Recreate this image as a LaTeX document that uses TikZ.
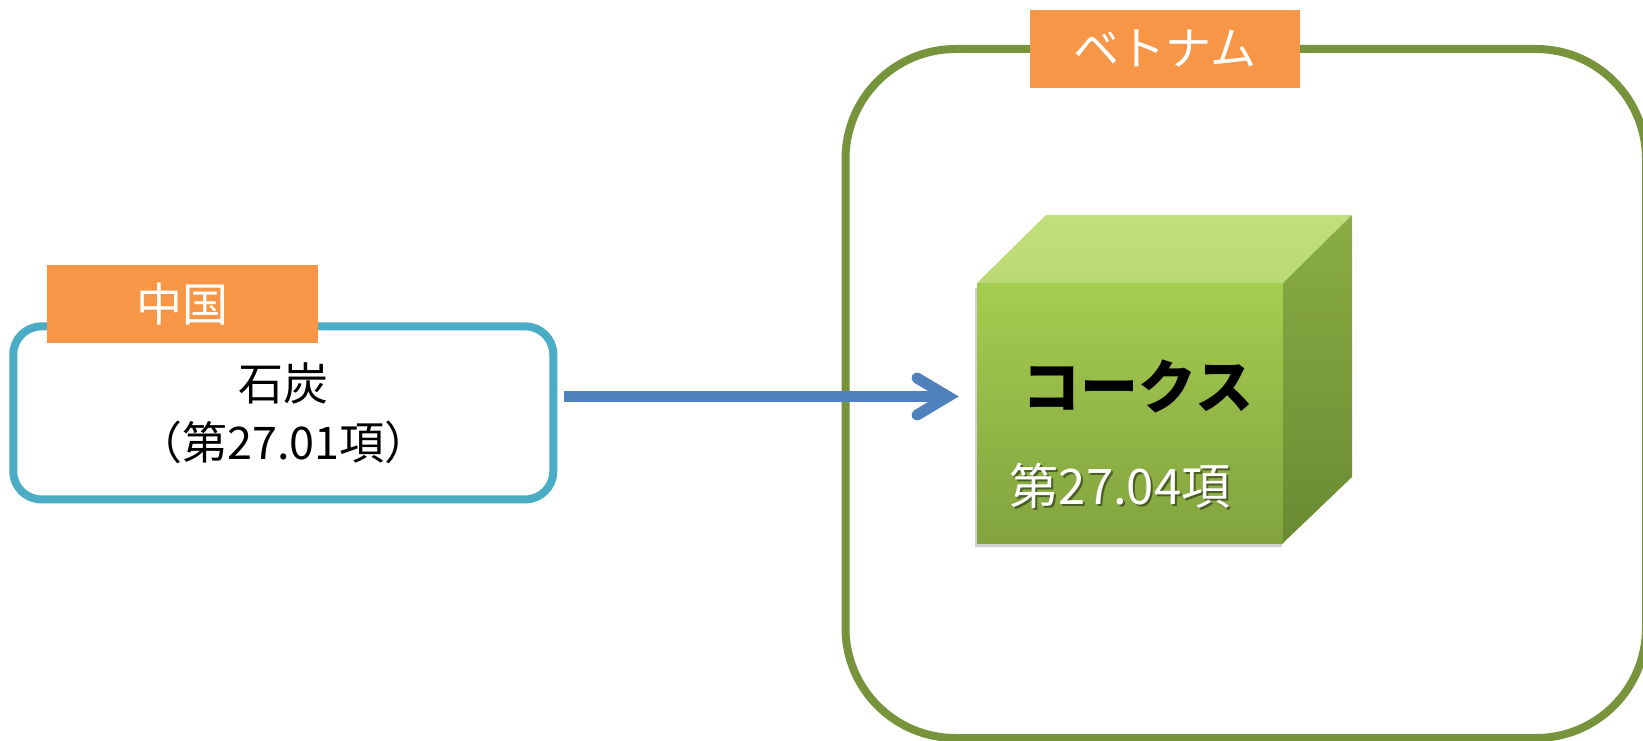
\documentclass[tikz,border=0pt]{standalone}
\usepackage{fontspec}
\newfontfamily\jp{Noto Sans CJK JP}
\usetikzlibrary{calc}
\definecolor{aqua}{HTML}{4BACC6}
\definecolor{orng}{HTML}{F79646}
\definecolor{olive}{HTML}{77933C}
\definecolor{flowblue}{HTML}{4F81BD}
\definecolor{frontA}{HTML}{A5CD50}
\definecolor{frontB}{HTML}{82A33F}
\definecolor{topA}{HTML}{C0E07D}
\definecolor{topB}{HTML}{BBDA75}
\definecolor{sideA}{HTML}{8BAD44}
\definecolor{sideB}{HTML}{6A8A33}
\tikzset{
  region/.style={draw, line width=8pt, fill=white, inner sep=0pt, outer sep=0pt},
  tag/.style={fill=orng, text=white, inner sep=0pt, outer sep=0pt,
    minimum width=270.5pt, minimum height=77.7pt,
    font=\jp\fontsize{46}{48}\selectfont},
  flow/.style={draw=flowblue, line width=10.5pt},
  flowhead/.style={draw=flowblue, line width=11pt, line cap=round, line join=miter},
  facebox/.style={inner sep=0pt, outer sep=0pt, minimum width=306pt, minimum height=260pt},
}
\begin{document}
\begin{tikzpicture}[x=1pt,y=-1pt]
\useasboundingbox (0,0) rectangle (1643,741);
\clip (0,0) rectangle (1643,741);
\fill[white] (0,0) rectangle (1643,741);

% Vietnam region
\node[region, draw=olive, minimum width=800.5pt, minimum height=689pt,
      rounded corners=110pt] (vn) at (1245.75,393.5) {};
\node[tag] (vntag) at (1165,48.85) {\raisebox{-3pt}{ベトナム}};

% China box
\node[region, draw=aqua, minimum width=540pt, minimum height=173pt,
      rounded corners=28pt, align=center,
      font=\jp\fontsize{45}{56}\selectfont] (china) at (283.3,412.9)
      {\raisebox{3pt}{石炭}\\（第27.01項）};
\node[tag] (cntag) at (182.4,303.9) {\raisebox{-3pt}{中国}};

% cube
\fill[black, opacity=0.18] (975,288) -- (975,547) -- (1282,547) -- (1282,290) -- cycle;
\node[facebox, top color=frontA, bottom color=frontB] (coke) at (1130,413) {};
\shade[top color=topA, bottom color=topB]
  (coke.north west) -- ++(69,-68) -- ++(306,0) -- (coke.north east) -- cycle;
\shade[top color=sideA, bottom color=sideB]
  (coke.north east) -- ++(69,-68) -- ++(0,262) -- (coke.south east) -- cycle;
\node[font=\jp\bfseries\fontsize{58}{60}\selectfont, inner sep=0pt] (cokelbl) at (1138,386) {コークス};
\node[font=\jp\fontsize{49}{50}\selectfont, text=black, opacity=0.45, inner sep=0pt] at (1122,488) {第27.04項};
\node[font=\jp\fontsize{49}{50}\selectfont, text=white, inner sep=0pt] (cokecode) at (1120,486) {第27.04項};

% arrow
\coordinate (s) at ($(china.east |- 0,396.5)+(11,0)$);
\coordinate (t) at ($(coke.west |- 0,396.5)+(-29,0)$);
\draw[flow] (s) -- (t);
\draw[flowhead] ($(t)+(-31,-18.5)$) -- (t) -- ($(t)+(-31,18.5)$);
\end{tikzpicture}
\end{document}
